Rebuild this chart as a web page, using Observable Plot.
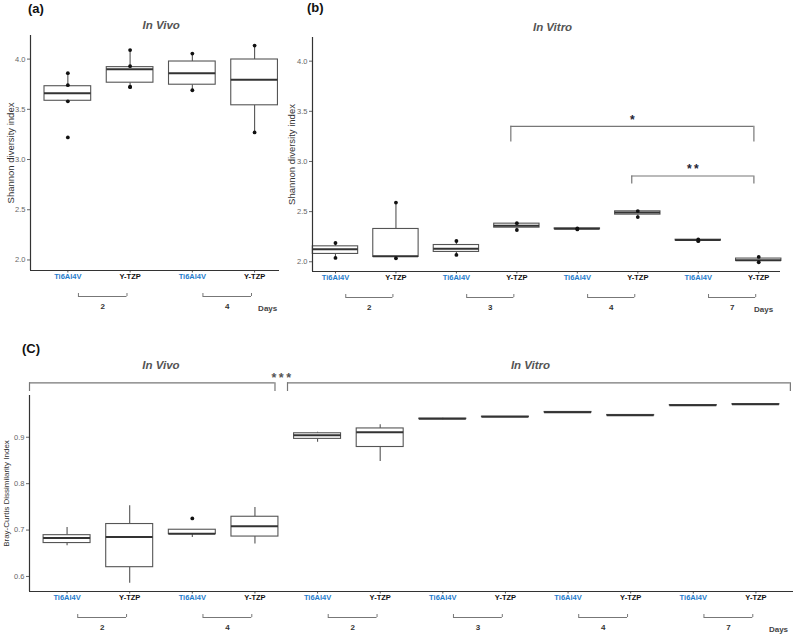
<!DOCTYPE html>
<html><head><meta charset="utf-8">
<script src="https://cdn.jsdelivr.net/npm/d3@7"></script>
<script src="https://cdn.jsdelivr.net/npm/@observablehq/plot@0.6"></script>
<style>
body{margin:0;background:#fff;}
#fig{position:relative;width:800px;height:636px;overflow:hidden;background:#fff;font-family:"Liberation Sans",Arial,sans-serif;}
#fig svg{position:absolute;overflow:visible;}
.lab{position:absolute;font-weight:bold;font-size:13px;line-height:13px;color:#111;}
</style></head><body><div id="fig"></div>
<script>
// ---------------- data ----------------
// Panel (a): In Vivo, Shannon diversity index
const aMaterial = ["Ti6Al4V","Y-TZP","Ti6Al4V","Y-TZP"];
const aDay      = ["2","2","4","4"];
const aLow  = [3.58, 3.72, 3.69, 3.27];
const aQ1   = [3.585, 3.765, 3.745, 3.54];
const aMed  = [3.66, 3.90, 3.86, 3.795];
const aQ3   = [3.73, 3.92, 3.976, 3.996];
const aHigh = [3.864, 4.095, 4.055, 4.14];
const aPointGroup = [0,0,0,0, 1,1,1,1, 2,2, 3,3];
const aPointValue = [3.86,3.74,3.58,3.22, 4.09,3.93,3.72,3.725, 4.055,3.69, 4.135,3.27];

// Panel (b): In Vitro, Shannon diversity index
const bMaterial = ["Ti6Al4V","Y-TZP","Ti6Al4V","Y-TZP","Ti6Al4V","Y-TZP","Ti6Al4V","Y-TZP"];
const bDay      = ["2","2","3","3","4","4","7","7"];
const bLow  = [2.038, 2.035, 2.068, 2.317, 2.322, 2.446, 2.205, 1.995];
const bQ1   = [2.078, 2.048, 2.098, 2.34, 2.325, 2.47, 2.212, 2.008];
const bMed  = [2.125, 2.055, 2.131, 2.36, 2.33, 2.49, 2.217, 2.015];
const bQ3   = [2.154, 2.327, 2.167, 2.38, 2.333, 2.503, 2.22, 2.032];
const bHigh = [2.187, 2.593, 2.207, 2.39, 2.335, 2.505, 2.222, 2.048];
const bPointGroup = [0,0, 1,1, 2,2, 3,3, 4,4, 5,5, 6,6, 7,7];
const bPointValue = [2.187,2.038, 2.59,2.035, 2.207,2.068, 2.385,2.317, 2.333,2.322, 2.505,2.446, 2.222,2.205, 2.048,1.995];
const bSignifFrom  = [3, 5];
const bSignifTo    = [7, 7];
const bSignifLabel = ["*", "*\u2009*"];
const bSignifLevel = [3.35, 2.855];
const bSignifTip   = [3.193, 2.775];

// Panel (c): Bray-Curtis dissimilarity, In Vivo (days 2,4) and In Vitro (days 2,3,4,7)
const cMaterial = ["Ti6Al4V","Y-TZP","Ti6Al4V","Y-TZP","Ti6Al4V","Y-TZP","Ti6Al4V","Y-TZP","Ti6Al4V","Y-TZP","Ti6Al4V","Y-TZP"];
const cDay      = ["2","2","4","4","2","2","3","3","4","4","7","7"];
const cSetting  = ["In Vivo","In Vivo","In Vivo","In Vivo","In Vitro","In Vitro","In Vitro","In Vitro","In Vitro","In Vitro","In Vitro","In Vitro"];
const cLow  = [0.666, 0.5855, 0.684, 0.670, 0.889, 0.848, 0.938, 0.943, 0.953, 0.946, 0.968, 0.970];
const cQ1   = [0.672, 0.620, 0.6913, 0.686, 0.8965, 0.879, 0.9392, 0.9436, 0.9535, 0.947, 0.9686, 0.9706];
const cMed  = [0.6827, 0.685, 0.692, 0.708, 0.9043, 0.911, 0.9397, 0.944, 0.954, 0.9475, 0.969, 0.971];
const cQ3   = [0.689, 0.713, 0.7007, 0.7287, 0.9086, 0.919, 0.9402, 0.9444, 0.9545, 0.948, 0.9694, 0.9714];
const cHigh = [0.7056, 0.7525, 0.7007, 0.7488, 0.911, 0.927, 0.941, 0.945, 0.955, 0.949, 0.970, 0.972];
const cPointGroup = [2];
const cPointValue = [0.725];
const cSignifLabel = "*\u2009*\u2009*";

const yTicksShannon = [2.0, 2.5, 3.0, 3.5, 4.0];
const yTicksBray = [0.6, 0.7, 0.8, 0.9];

// ---------------- helpers ----------------
const BLUE = "#1f7ccc";
const FONT = "Liberation Sans, Arial, sans-serif";

function rowsOf(mat, day, lo, q1, med, q3, hi) {
  return mat.map((m, i) => ({i, m, day: day[i], lo: lo[i], q1: q1[i], med: med[i], q3: q3[i], hi: hi[i]}));
}
function pointsOf(g, v) { return g.map((gi, k) => ({i: gi, v: v[k]})); }

function axisMarks(n, xDom, yDom, yTicks) {
  return [
    Plot.axisY({ticks: yTicks, tickFormat: d3.format(".1f"), tickSize: 3, tickPadding: 2, fontSize: 7.5, color: "#666", label: null}),
    Plot.axisX({ticks: d3.range(n), tickSize: 2.5, tickFormat: () => "", color: "#555", label: null}),
    Plot.ruleX([xDom[0]], {stroke: "#333", strokeWidth: 1.2}),
    Plot.ruleY([yDom[0]], {stroke: "#333", strokeWidth: 1.2})
  ];
}
function boxMarks(rows, pts) {
  const w = 0.375;
  return [
    Plot.ruleX(rows, {x: "i", y1: "lo", y2: "q1", stroke: "#555", strokeWidth: 1.1}),
    Plot.ruleX(rows, {x: "i", y1: "q3", y2: "hi", stroke: "#555", strokeWidth: 1.1}),
    Plot.rect(rows, {x1: d => d.i - w, x2: d => d.i + w, y1: "q1", y2: "q3", fill: "white", stroke: "#555", strokeWidth: 1.1}),
    Plot.ruleY(rows, {y: "med", x1: d => d.i - w, x2: d => d.i + w, stroke: "#333", strokeWidth: 2}),
    Plot.dot(pts, {x: "i", y: "v", r: 1.9, fill: "#111", stroke: null})
  ];
}
function labelMarks(rows) {
  return [
    Plot.text(rows, {filter: d => d.m === "Ti6Al4V", x: "i", text: "m", frameAnchor: "bottom", dy: 8.8, fill: BLUE, fontWeight: "bold", fontSize: 7.5}),
    Plot.text(rows, {filter: d => d.m !== "Ti6Al4V", x: "i", text: "m", frameAnchor: "bottom", dy: 8.8, fill: "#111", fontWeight: "bold", fontSize: 7.5})
  ];
}
function dayMarks(rows, y0, daysX) {
  const groups = [];
  rows.forEach((r, k) => { if (k === 0 || rows[k - 1].day !== r.day || rows[k - 1].m === "Y-TZP" && r.m === "Ti6Al4V") groups.push({day: r.day, i: r.i}); });
  const ends = groups.flatMap(g => [g.i + 0.17, g.i + 0.95]);
  return [
    Plot.ruleY(groups, {x1: g => g.i + 0.17, x2: g => g.i + 0.95, y: () => y0, dy: 26, stroke: "#777", strokeWidth: 1}),
    Plot.ruleX(ends, {x: d => d, y1: () => y0, y2: () => y0, insetTop: -3, dy: 26, stroke: "#777", strokeWidth: 1}),
    Plot.text(groups, {x: g => g.i + 0.56, text: "day", frameAnchor: "bottom", dy: 38.5, fill: "#333", fontWeight: "bold", fontSize: 8}),
    Plot.text(["Days"], {x: () => daysX, text: d => d, frameAnchor: "bottom", dy: 40, fill: "#444", fontWeight: "bold", fontSize: 8})
  ];
}
function titleMark(text, x, dy) {
  return Plot.text([text], {x: () => x, text: d => d, frameAnchor: "top", dy, fill: "#555", fontWeight: "bold", fontStyle: "italic", fontSize: 11.5});
}
function yTitleMark(text, dx, size) {
  return Plot.text([text], {text: d => d, frameAnchor: "left", textAnchor: "middle", rotate: -90, dx, fill: "#333", fontSize: size});
}

const fig = document.getElementById("fig");
function place(svg, left, top) { svg.style.left = left + "px"; svg.style.top = top + "px"; fig.appendChild(svg); }
function label(txt, left, top) { const d = document.createElement("div"); d.className = "lab"; d.textContent = txt; d.style.left = left + "px"; d.style.top = top + "px"; fig.appendChild(d); }

// ---------------- panel (a) ----------------
{
  const rows = rowsOf(aMaterial, aDay, aLow, aQ1, aMed, aQ3, aHigh);
  const pts = pointsOf(aPointGroup, aPointValue);
  const xDom = [-0.6, 3.4], yDom = [1.895, 4.235];
  const svg = Plot.plot({
    width: 290, height: 320, marginLeft: 30, marginRight: 11, marginTop: 35, marginBottom: 50,
    style: {fontFamily: FONT, background: "white", overflow: "visible"},
    x: {domain: xDom}, y: {domain: yDom},
    marks: [
      ...boxMarks(rows, pts),
      ...axisMarks(rows.length, xDom, yDom, yTicksShannon),
      ...labelMarks(rows),
      ...dayMarks(rows, yDom[0], 3.21),
      titleMark("In Vivo", 1.5, -15),
      yTitleMark("Shannon diversity index", -19.5, 9.5)
    ]
  });
  place(svg, 0, 0);
}

// ---------------- panel (b) ----------------
{
  const rows = rowsOf(bMaterial, bDay, bLow, bQ1, bMed, bQ3, bHigh);
  const pts = pointsOf(bPointGroup, bPointValue);
  const sig = bSignifFrom.map((f, k) => ({from: f - 0.1, to: bSignifTo[k] - 0.08, label: bSignifLabel[k], y: bSignifLevel[k], tip: bSignifTip[k]}));
  const xDom = [-0.38, 7.36], yDom = [1.903, 4.236];
  const svg = Plot.plot({
    width: 510, height: 320, marginLeft: 22, marginRight: 20, marginTop: 37, marginBottom: 49,
    style: {fontFamily: FONT, background: "white", overflow: "visible"},
    x: {domain: xDom}, y: {domain: yDom},
    marks: [
      ...boxMarks(rows, pts),
      ...axisMarks(rows.length, xDom, yDom, yTicksShannon),
      ...labelMarks(rows),
      ...dayMarks(rows, yDom[0], 7.08),
      Plot.ruleY(sig, {y: "y", x1: "from", x2: "to", stroke: "#777", strokeWidth: 1.2}),
      Plot.ruleX(sig, {x: "from", y1: "tip", y2: "y", stroke: "#777", strokeWidth: 1.2}),
      Plot.ruleX(sig, {x: "to", y1: "tip", y2: "y", stroke: "#777", strokeWidth: 1.2}),
      Plot.text(sig, {x: d => (d.from + d.to) / 2, y: "y", text: "label", dy: -6.5, fill: "#223", fontSize: 12, fontWeight: "bold"}),
      titleMark("In Vitro", 3.59, -14.7),
      yTitleMark("Shannon diversity index", -20.3, 9.5)
    ]
  });
  place(svg, 290, 0);
}

// ---------------- panel (c) ----------------
{
  const rows = rowsOf(cMaterial, cDay, cLow, cQ1, cMed, cQ3, cHigh);
  const pts = pointsOf(cPointGroup, cPointValue);
  const xDom = [-0.6, 11.6], yDom = [0.5676, 0.990];
  const settings = [];
  cSetting.forEach((s, i) => { const last = settings[settings.length - 1]; if (!last || last.name !== s) settings.push({name: s, first: i, last: i}); else last.last = i; });
  const spans = settings.map((s, k) => ({name: s.name, x1: k === 0 ? xDom[0] : s.first - 0.48, x2: k === 0 ? s.last + 0.32 : xDom[1] - 0.05, mid: k === 0 ? (s.first + s.last) / 2 : (s.first + s.last) / 2 - 0.1}));
  const ends = spans.flatMap(s => [s.x1, s.x2]);
  const svg = Plot.plot({
    width: 800, height: 306, marginLeft: 29, marginRight: 7, marginTop: 65, marginBottom: 45,
    style: {fontFamily: FONT, background: "white", overflow: "visible"},
    x: {domain: xDom}, y: {domain: yDom},
    marks: [
      ...boxMarks(rows, pts),
      ...axisMarks(rows.length, xDom, yDom, yTicksBray),
      ...labelMarks(rows),
      ...dayMarks(rows, yDom[0], 11.36),
      Plot.ruleY(spans, {y: () => yDom[1], x1: "x1", x2: "x2", dy: -12.7, stroke: "#777", strokeWidth: 1.2}),
      Plot.ruleX(ends, {x: d => d, y1: () => yDom[1], y2: () => yDom[1], insetBottom: -8.7, dy: -12.7, stroke: "#777", strokeWidth: 1.2}),
      Plot.text(spans, {x: "mid", text: "name", frameAnchor: "top", dy: -34.5, fill: "#555", fontWeight: "bold", fontStyle: "italic", fontSize: 11.5}),
      Plot.text([cSignifLabel], {x: () => (spans[0].x2 + spans[1].x1) / 2, text: d => d, frameAnchor: "top", dy: -22.5, fill: "#555", fontWeight: "bold", fontSize: 12.5}),
      yTitleMark("Bray-Curtis Dissimilarity Index", -23.5, 8)
    ]
  });
  place(svg, 0, 330);
}

label("(a)", 28, 1.5);
label("(b)", 307, 0.5);
label("(C)", 22, 342);
</script></body></html>
